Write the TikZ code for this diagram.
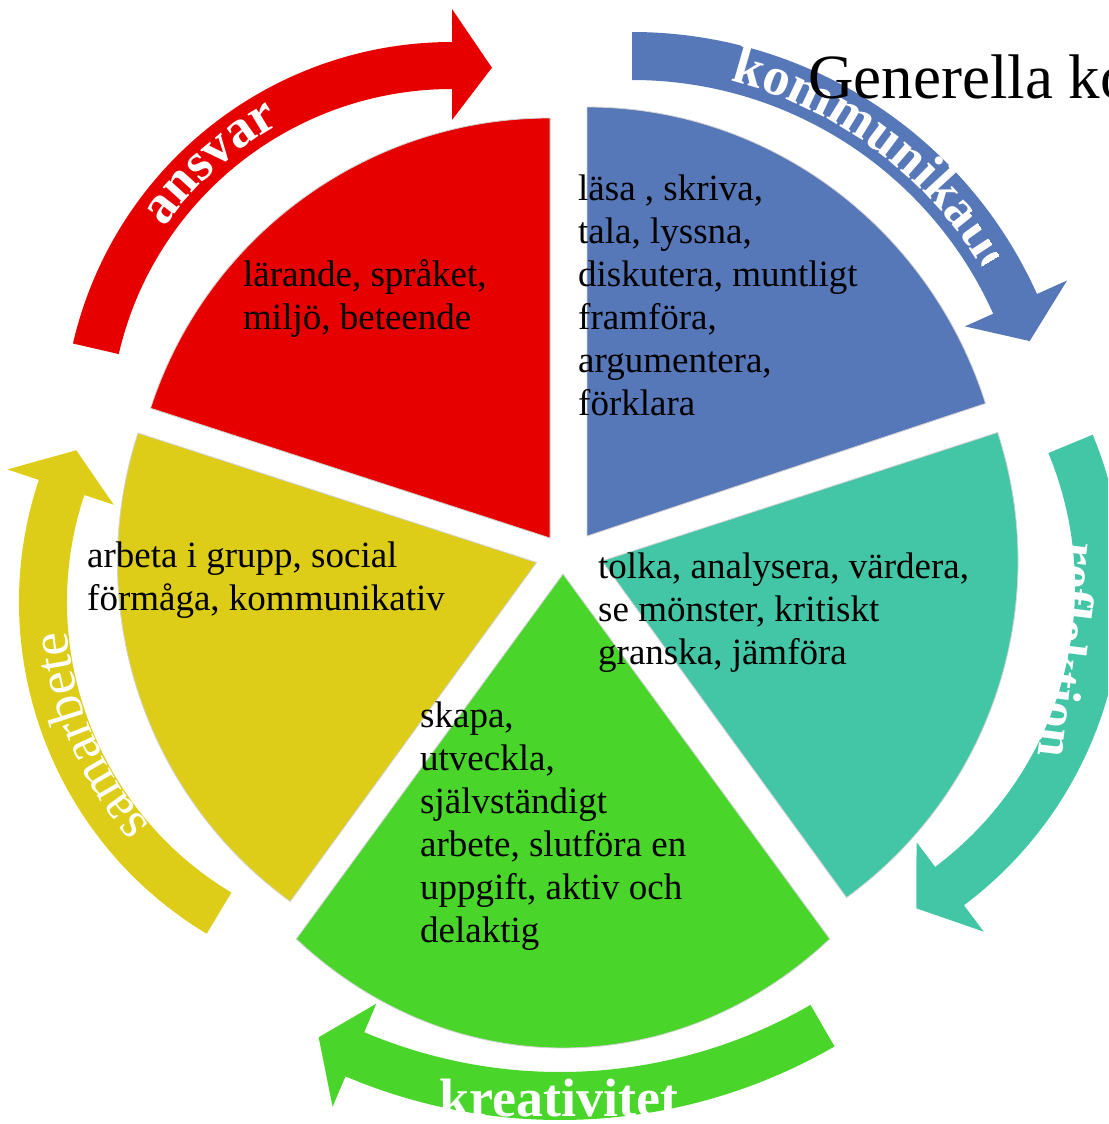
\documentclass[tikz,border=0pt]{standalone}
\usepackage{fontspec}
\setmainfont{Liberation Serif}
\usetikzlibrary{decorations.text}
\definecolor{cred}{RGB}{230,0,0}
\definecolor{cblue}{RGB}{86,119,184}
\definecolor{cteal}{RGB}{67,198,165}
\definecolor{cgreen}{RGB}{74,213,43}
\definecolor{cyellow}{RGB}{221,205,24}
\tikzset{
  wedgeline/.style={draw=gray!35, line width=0.8pt},
  wtext/.style={anchor=base west, inner sep=0pt, font=\fontsize{37}{43}\selectfont},
  alabel/.style={inner sep=0pt, text=white, font=\bfseries\fontsize{54}{60}\selectfont},
}
% wedge: apex x, apex y, start angle, end angle (tikz angles), x radius, y radius, colour
\newcommand\piewedge[7]{%
  \path[wedgeline, fill=#7] (#1,#2) -- ([shift={(#1,#2)}]#3:#5 and #6)
    arc[start angle=#3, end angle=#4, x radius=#5, y radius=#6] -- cycle;}
% arrow: centre x, centre y, inner r, outer R, tail angle, head angle, colour
\newcommand\cycarrow[7]{%
  \pgfmathsetmacro\arM{(#3+#4)/2}%
  \pgfmathsetmacro\arT{#6+40/\arM*180/pi}%
  \pgfmathsetmacro\arI{#3-31}%
  \pgfmathsetmacro\arO{#4+33}%
  \fill[#7] ([shift={(#1,#2)}]#5:#4) arc[start angle=#5, end angle=#6, radius=#4]
    -- ([shift={(#1,#2)}]#6:\arO) -- ([shift={(#1,#2)}]\arT:\arM)
    -- ([shift={(#1,#2)}]#6:\arI) -- ([shift={(#1,#2)}]#6:#3)
    arc[start angle=#6, end angle=#5, radius=#3] -- cycle;}
\begin{document}
\begin{tikzpicture}[x=1pt,y=-1pt]
\useasboundingbox (0,0) rectangle (1108,1124);
\clip (0,0) rectangle (1108,1124);

% arrows
\cycarrow{452}{431}{342}{389}{-167}{-90}{cred}
\cycarrow{632}{476}{396}{444}{-90}{-24.2}{cblue}
\cycarrow{725}{587}{350}{398}{-22.5}{53.1}{cteal}
\cycarrow{560}{571}{501}{549}{60}{113}{cgreen}
\cycarrow{406}{602}{339}{387}{-239}{-161.6}{cyellow}

% wedges
\piewedge{550}{538}{-90}{-162}{420}{420}{cred}
\piewedge{587}{536}{-18}{-90}{419}{429}{cblue}
\piewedge{602}{561}{54}{-18}{416}{416}{cteal}
\piewedge{563}{574}{129.65}{50.35}{418}{474}{cgreen}
\piewedge{536.5}{562.5}{-162}{-234}{419}{419}{cyellow}

% arrow labels
\begingroup
\bfseries\fontsize{54}{60}\selectfont
\path[decorate, decoration={text along path, text color=white, text align=center,
  text={ansvar}}]
  ([shift={(452,431)}]-172:352) arc[start angle=-172, end angle=-92, radius=352];
\begin{scope}
\clip (632,476) -- ([shift={(632,476)}]-38:700) arc[start angle=-38, end angle=-120, radius=700] -- cycle
      (632,476) -- ([shift={(632,476)}]-31:428) arc[start angle=-31, end angle=-38.5, radius=428] -- cycle;
\path[decorate, decoration={text along path, text color=white, text align=left,
  text={kommunikation}}]
  ([shift={(632,476)}]-76:407) arc[start angle=-76, end angle=-5, radius=407];
\end{scope}
\fontsize{52}{60}\selectfont
\path[decorate, decoration={text along path, text color=white, text align=center,
  text={reflektion}}]
  (1070,499) -- (1033,797);
\endgroup
\node[alabel, anchor=base] (kreat) at (558.5,1116) {kreativitet};
\begingroup
\fontsize{53}{60}\selectfont
\path[decorate, decoration={text along path, text color=white, text align=center,
  text={samarbete}}]
  ([shift={(406,602)}]-240:340) arc[start angle=-240, end angle=-166, radius=340];
\endgroup

% title
\node[anchor=base west, inner sep=0pt, font=\fontsize{63}{70}\selectfont] (title) at (808,98) {Generella ko};

% wedge texts
\foreach \t [count=\i] in {{lärande, språket,}, {miljö, beteende}}
  \node[wtext] (red\i) at (243,{286+43*(\i-1)}) {\t};
\foreach \t [count=\i] in {{läsa , skriva,}, {tala, lyssna,}, {diskutera, muntligt}, {framföra,}, {argumentera,}, {förklara}}
  \node[wtext] (blue\i) at (578,{200+43*(\i-1)}) {\t};
\foreach \t [count=\i] in {{tolka, analysera, värdera,}, {se mönster, kritiskt}, {granska, jämföra}}
  \node[wtext] (teal\i) at (598,{578+43*(\i-1)}) {\t};
\foreach \t [count=\i] in {{arbeta i grupp, social}, {förmåga, kommunikativ}}
  \node[wtext] (yel\i) at (87,{567+43*(\i-1)}) {\t};
\foreach \t [count=\i] in {{skapa,}, {utveckla,}, {självständigt}, {arbete, slutföra en}, {uppgift, aktiv och}, {delaktig}}
  \node[wtext] (green\i) at (420,{727+43*(\i-1)}) {\t};
\end{tikzpicture}
\end{document}
